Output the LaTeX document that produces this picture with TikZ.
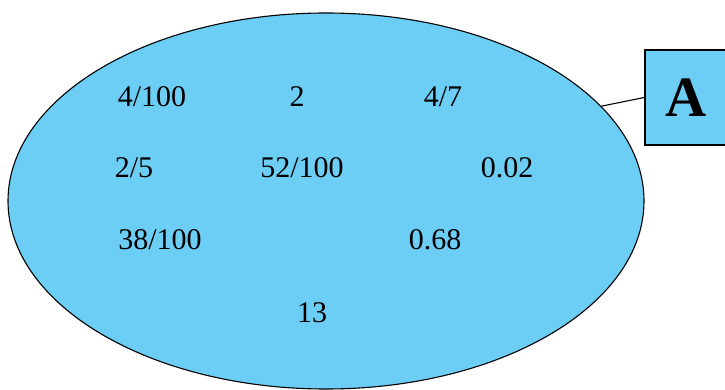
\documentclass[tikz,border=0pt]{standalone}
\usepackage{fontspec}
\setmainfont{Liberation Serif}
\usepackage{xcolor}
\usetikzlibrary{shapes.geometric}

\definecolor{setblue}{RGB}{109,206,245}

\begin{document}
\begin{tikzpicture}[
        x=1pt, y=-1pt,
        num/.style={font=\fontsize{30}{34}\selectfont, inner sep=0pt},
        setshape/.style={draw, ellipse, fill=setblue, line width=1.1pt,
            minimum width=636pt, minimum height=376pt, inner sep=0pt},
        labelbox/.style={draw, fill=setblue, line width=1.6pt,
            minimum width=82pt, minimum height=95pt, inner sep=0pt,
            font=\fontsize{57}{60}\selectfont\bfseries},
    ]
        \clip (0,0) rectangle (725,390);
        \useasboundingbox (0,0) rectangle (725,390);

        % the set
        \node[setshape] (set) at (326,201) {};

        % its elements
        \node[num] (e1) at (152,97) {4/100};
        \node[num] (e2) at (297,97) {2};
        \node[num] (e3) at (443,97) {4/7};
        \node[num] (e4) at (134,168) {2/5};
        \node[num] (e5) at (302,168) {52/100};
        \node[num] (e6) at (507,168) {0.02};
        \node[num] (e7) at (160,240) {38/100};
        \node[num] (e8) at (435,240) {0.68};
        \node[num] (e9) at (312,313) {13};

        % name of the set
        \node[labelbox] (name) at (686,97.5) {A};
        \draw[line width=1.1pt] (set.19.4) -- (name.west);
    \end{tikzpicture}
\end{document}
